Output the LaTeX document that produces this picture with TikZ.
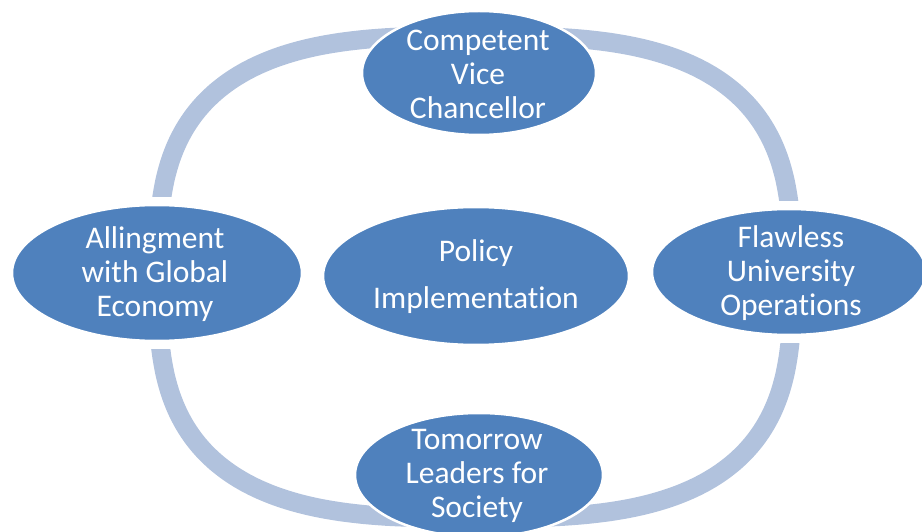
\documentclass[tikz,border=0pt]{standalone}
\usepackage{fontspec}
\setmainfont{Carlito}[Ligatures=NoCommon]
\usetikzlibrary{shapes.geometric}
\pgfdeclarelayer{ringlayer}
\pgfsetlayers{ringlayer,main}
\definecolor{petal}{HTML}{4F81BD}
\definecolor{ringblue}{HTML}{B1C2DD}
\begin{document}
\begin{tikzpicture}[x=1pt,y=-1pt,
  bubble/.style={ellipse, fill=petal, draw=white, line width=2.5pt, inner sep=0pt},
  caption/.style={text=white, align=center, inner sep=0pt,
    font=\fontsize{31.5}{34}\selectfont},
  ringband/.style={draw=ringblue, line width=19pt, line cap=butt}]
\useasboundingbox (0,0) rectangle (922,532);

% the five ellipses
\node[bubble, minimum width=234pt, minimum height=124pt] (top)    at (479,73)  {};
\node[bubble, minimum width=290pt, minimum height=136pt] (left)   at (157,273) {};
\node[bubble, minimum width=274pt, minimum height=126pt] (right)  at (789,272) {};
\node[bubble, minimum width=248pt, minimum height=124pt] (bottom) at (479,475) {};
\node[bubble, minimum width=306pt, minimum height=138pt] (middle) at (476,276) {};

% their texts
\node[caption] (top-text)    at (478,74)  {Competent\\Vice\\Chancellor};
\node[caption] (left-text)   at (155,274) {Allingment\\with Global\\Economy};
\node[caption] (right-text)  at (791,273) {Flawless\\University\\Operations};
\node[caption] (bottom-text) at (477,476) {Tomorrow\\Leaders for\\Society};
\node[caption, font=\fontsize{31.5}{47}\selectfont] (middle-text) at (476,277)
  {Policy\\Implementation};

% the ring behind them, one rounded quarter per corner
\begin{pgfonlayer}{ringlayer}
\begin{scope}
  \clip (0,0) rectangle ([yshift=7pt]top.center |- left.north);
  \draw[ringband] plot[domain=0.5:89.5, samples=70, smooth, variable=\t]
    ({475-317*pow(cos(\t),2/3)}, {277-241*pow(sin(\t),2/3)});
\end{scope}
\begin{scope}
  \clip (922,0) rectangle ([yshift=7pt]top.center |- right.north);
  \draw[ringband] plot[domain=0.5:89.5, samples=70, smooth, variable=\t]
    ({475+317*pow(cos(\t),2/3)}, {277-241*pow(sin(\t),2/3)});
\end{scope}
\begin{scope}
  \clip (922,532) rectangle ([yshift=-7pt]bottom.center |- right.south);
  \draw[ringband] plot[domain=0.5:89.5, samples=70, smooth, variable=\t]
    ({475+317*pow(cos(\t),2/3)}, {277+241*pow(sin(\t),2/3)});
\end{scope}
\begin{scope}
  \clip (0,532) rectangle ([yshift=-7pt]bottom.center |- left.south);
  \draw[ringband] plot[domain=0.5:89.5, samples=70, smooth, variable=\t]
    ({475-317*pow(cos(\t),2/3)}, {277+241*pow(sin(\t),2/3)});
\end{scope}
\end{pgfonlayer}
\end{tikzpicture}
\end{document}
